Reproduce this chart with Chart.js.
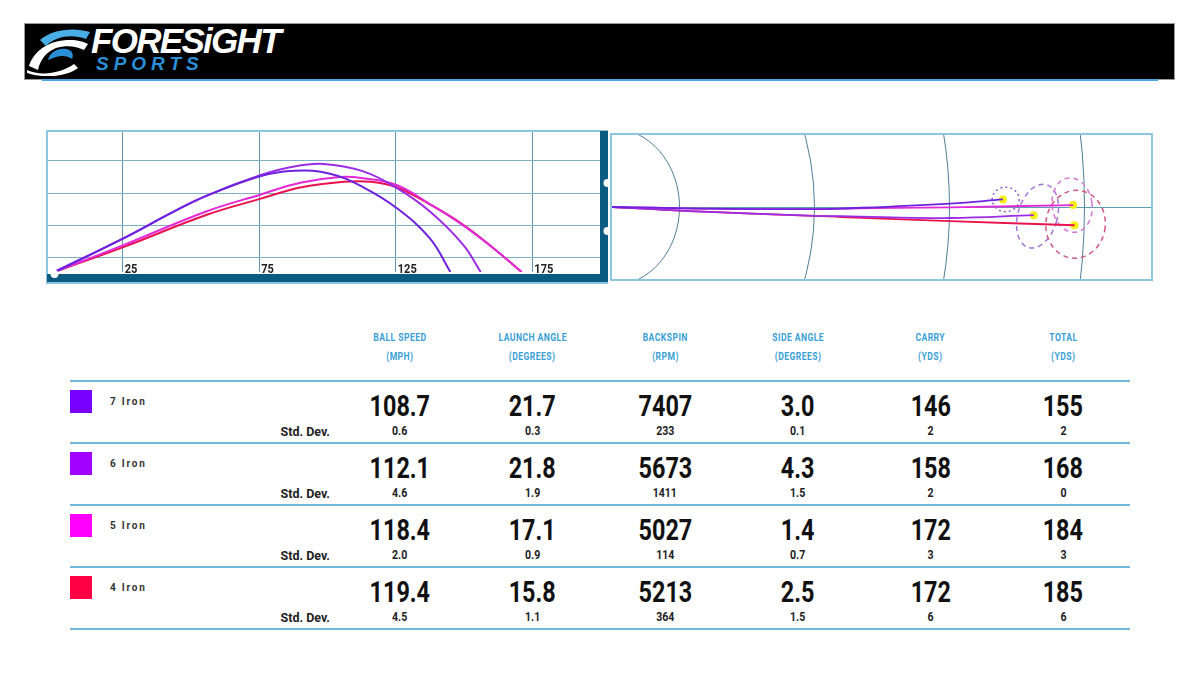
<!DOCTYPE html>
<html>
<head>
<meta charset="utf-8">
<script src="https://cdn.jsdelivr.net/npm/chart.js@4.4.1/dist/chart.umd.min.js"></script>
<style>
    body { margin: 0; width: 1200px; height: 675px; background: #fff; position: relative; overflow: hidden;
           font-family: Roboto, "DejaVu Sans", sans-serif; }
    .abs { position: absolute; }
    #header { left: 24px; top: 23px; width: 1151px; height: 57px; background: #000; border: 1px solid #9a9a9a; box-sizing: border-box; }
    #header-line { left: 42px; top: 79px; width: 1116px; height: 2px; background: #4aa8e0; }
    #brand { left: 91px; top: 21px; color: #fff; font: italic bold 35px "Liberation Sans", sans-serif; letter-spacing: -1.7px; }
    #brand-sub { left: 96px; top: 53px; color: #2a8fd6; font: italic bold 19px "Liberation Sans", sans-serif; letter-spacing: 5px; }
    .cell { text-align: center; width: 120px; white-space: nowrap; }
    .cell span { display: inline-block; transform-origin: 50% 50%; }
    .colhead { color: #3a9fd6; font-weight: bold; font-size: 10px; letter-spacing: 0.5px; }
    .colhead span { transform: scaleX(0.86); }
    .rule { left: 70px; width: 1060px; height: 2px; background: #74b9dc; }
    .swatch { left: 70px; width: 22px; height: 23px; }
    .club { left: 110px; font-size: 10px; font-weight: bold; letter-spacing: 1.8px; color: #333; }
    .big { font-size: 30px; font-weight: bold; color: #111; }
    .big span { transform: scaleX(0.78); }
    .sd { font-size: 12px; font-weight: bold; color: #222; }
    .sd span { transform: scaleX(0.88); }
    .sdlabel { left: 230px; width: 100px; text-align: right; font-size: 12.5px; font-weight: bold; color: #222; }
    canvas { position: absolute; }
</style>
</head>
<body>
<div id="header" class="abs"></div>
<div id="header-line" class="abs"></div>
<svg class="abs" style="left:26px;top:26px" width="66" height="50" viewBox="0 0 66 50">
    <path d="M14,14 C26,3 48,1 64,6 L60,13 C46,8 30,10 20,20 Z" fill="#4aaee6"/>
    <path d="M3,40 C8,24 24,14 44,14 C52,14 58,16 62,18 L58,24 C50,20 40,19 30,22 C20,26 14,34 12,44 Z" fill="#fff"/>
    <path d="M22,34 C24,26 32,22 40,23 C46,24 48,28 46,33 C42,30 36,29 30,31 Z" fill="#2a8fd6"/>
    <path d="M1,44 C14,50 34,48 48,38 L52,42 C38,52 16,52 1,47 Z" fill="#fff"/>
</svg>
<div id="brand" class="abs">FORESiGHT</div>
<div id="brand-sub" class="abs">SPORTS</div>

<canvas id="side" width="562" height="154" style="left:46px;top:130px"></canvas>
<canvas id="top" width="548" height="154" style="left:608px;top:130px"></canvas>

<div id="table"></div>

<script>
// Club names and swatch colours
const clubs = ['7 Iron', '6 Iron', '5 Iron', '4 Iron'];
const clubColors = ['#7700ff', '#a100ff', '#ff00ff', '#ff0044'];
const lineColors = ['#6e22e0', '#9c2de6', '#e22ad8', '#e8124e'];
const ringColors = ['#8a5ad0', '#a274d8', '#d878d4', '#d25585'];

// Side view trajectories: distance (yds) vs height
const side7 = [[0, 0], [25.2, 10.4], [43.5, 18.6], [55.8, 23.6], [75.3, 29.6], [88, 31.3], [100.9, 30.4], [113.1, 26.2], [125.3, 19.8], [137.5, 10.4], [145, 0]];
const side6 = [[0, 0], [25.2, 10.4], [43.5, 18.6], [55.8, 23.6], [75.3, 29.9], [86.3, 32.4], [98.5, 33.4], [113.1, 31.1], [125.3, 26.0], [137.5, 18.7], [149.7, 8.4], [156.1, 0]];
const side5 = [[0, 0], [25.2, 8.3], [55.8, 18.8], [75.3, 23.9], [90, 27.6], [104.6, 29.4], [113.1, 29.0], [125.3, 26.9], [137.5, 21.0], [149.7, 14.4], [162, 6.5], [171.1, 0]];
const side4 = [[0, 0], [25.2, 7.7], [55.8, 17.7], [75.3, 22.6], [90, 26.1], [106, 27.9], [116, 27.9], [125.3, 26.2], [137.5, 20.9], [149.7, 14.6], [162, 6.5], [171.1, 0]];

// Top view paths: distance (yds) vs lateral offset (yds)
const top7 = [[0, 0], [15.4, -0.2], [33.7, -0.5], [75, -0.7], [85, -0.5], [125.3, 1.1], [144.8, 2.4]];
const top6 = [[0, 0], [15.4, -0.7], [33.7, -1.5], [75, -2.8], [85, -2.9], [125.3, -3.5], [156.2, -2.6]];
const top5 = [[0, 0], [15.4, -0.2], [33.7, -0.5], [75, -0.7], [85, -0.5], [125.3, -0.1], [170.8, 0.6]];
const top4 = [[0, 0], [15.4, -0.7], [33.7, -1.5], [75, -2.8], [85, -3.2], [125.3, -4.5], [171.3, -5.8]];

// Dispersion rings round each landing spot: centre, radii (yds), tilt (deg)
const ringCenterX = [145.8, 157.6, 170.4, 171.7];
const ringCenterY = [2.4, -2.9, 0.6, -5.5];
const ringRadiusX = [5.0, 7.3, 7.4, 11];
const ringRadiusY = [3.9, 10.4, 8.7, 10.8];
const ringTilt = [0, 16, -8, 6];

// Grid
const xGrid = [25, 75, 125, 175];
const yGrid = [4.4, 14.4, 24.4, 34.4];
const arcRadii = [25, 75, 125, 175];

// Table values
const colNames = ['BALL SPEED', 'LAUNCH ANGLE', 'BACKSPIN', 'SIDE ANGLE', 'CARRY', 'TOTAL'];
const colUnits = ['(MPH)', '(DEGREES)', '(RPM)', '(DEGREES)', '(YDS)', '(YDS)'];
const colDecimals = [1, 1, 0, 1, 0, 0];
const ballSpeed = [108.7, 112.1, 118.4, 119.4];
const ballSpeedSd = [0.6, 4.6, 2.0, 4.5];
const launchAngle = [21.7, 21.8, 17.1, 15.8];
const launchAngleSd = [0.3, 1.9, 0.9, 1.1];
const backspin = [7407, 5673, 5027, 5213];
const backspinSd = [233, 1411, 114, 364];
const sideAngle = [3.0, 4.3, 1.4, 2.5];
const sideAngleSd = [0.1, 1.5, 0.7, 1.5];
const carry = [146, 158, 172, 172];
const carrySd = [2, 2, 3, 6];
const total = [155, 168, 184, 185];
const totalSd = [2, 0, 3, 6];

const colValues = [ballSpeed, launchAngle, backspin, sideAngle, carry, total];
const colSds = [ballSpeedSd, launchAngleSd, backspinSd, sideAngleSd, carrySd, totalSd];

Chart.defaults.font.family = 'Roboto, sans-serif';

const toXY = pts => pts.map(p => ({ x: p[0], y: p[1] }));
const zeroSize = {
    x: s => { s.height = 0; },
    y: s => { s.width = 0; }
};

function lineSet(pts, color, width) {
    return {
        data: toXY(pts),
        borderColor: color,
        borderWidth: width || 2,
        pointRadius: 0,
        fill: false,
        tension: 0.4
    };
}

// ---------- side view ----------
const sideDecor = {
    id: 'sideDecor',
    afterDraw(chart) {
        const { ctx, chartArea: a, width, height } = chart;
        const xs = chart.scales.x;
        ctx.save();
        // light outer frame
        ctx.strokeStyle = '#8cc6e2';
        ctx.lineWidth = 2;
        ctx.strokeRect(1, 1, width - 1, height - 2);
        // ground bar and right post
        ctx.fillStyle = '#0b5a80';
        ctx.fillRect(1, a.bottom + 2, width - 1, 8);
        ctx.fillRect(a.right, 1, width - a.right, height - 3);
        // tee
        ctx.fillStyle = '#fff';
        ctx.beginPath();
        ctx.arc(xs.getPixelForValue(0), a.bottom + 2, 4, 0, Math.PI * 2);
        ctx.fill();
        [53, 101].forEach(y => {
            ctx.beginPath();
            ctx.arc(width - 0.5, y, 4, 0, Math.PI * 2);
            ctx.fill();
        });
        // distance labels
        ctx.fillStyle = '#222';
        ctx.font = 'bold 13px Roboto, sans-serif';
        ctx.textBaseline = 'alphabetic';
        xGrid.forEach(v => {
            ctx.save();
            ctx.translate(xs.getPixelForValue(v) + 2, a.bottom + 1);
            ctx.scale(0.85, 1);
            ctx.fillText(String(v), 0, 0);
            ctx.restore();
        });
        ctx.restore();
    }
};

new Chart(document.getElementById('side'), {
    type: 'line',
    data: {
        datasets: [lineSet(side7, lineColors[0]), lineSet(side6, lineColors[1]),
                   lineSet(side5, lineColors[2]), lineSet(side4, lineColors[3])]
    },
    options: {
        responsive: false,
        animation: false,
        layout: { padding: { left: 1, top: 1, right: 8, bottom: 12 } },
        plugins: { legend: { display: false }, tooltip: { enabled: false } },
        scales: {
            x: {
                type: 'linear', min: -2.75, max: 199.8,
                afterBuildTicks: s => { s.ticks = xGrid.map(v => ({ value: v })); },
                afterFit: zeroSize.x,
                ticks: { display: false },
                grid: { color: '#5f95ad', lineWidth: 1, drawTicks: false },
                border: { display: false }
            },
            y: {
                type: 'linear', min: 0, max: 43.6,
                afterBuildTicks: s => { s.ticks = yGrid.map(v => ({ value: v })); },
                afterFit: zeroSize.y,
                ticks: { display: false },
                grid: { color: '#7fb0c6', lineWidth: 1, drawTicks: false },
                border: { display: false }
            }
        }
    },
    plugins: [sideDecor]
});

// ---------- top view ----------
const dotIndex = 4;
const topDecor = {
    id: 'topDecor',
    beforeDatasetsDraw(chart) {
        const { ctx, chartArea: a } = chart;
        const xs = chart.scales.x, ys = chart.scales.y;
        const x0 = xs.getPixelForValue(0), y0 = ys.getPixelForValue(0);
        ctx.save();
        ctx.beginPath();
        ctx.rect(a.left, a.top, a.right - a.left, a.bottom - a.top);
        ctx.clip();
        ctx.strokeStyle = '#4f7f98';
        ctx.lineWidth = 1;
        arcRadii.forEach(r => {
            const rx = xs.getPixelForValue(r) - x0;
            const ry = y0 - ys.getPixelForValue(r);
            ctx.beginPath();
            ctx.ellipse(x0, y0, rx, ry, 0, -Math.PI / 2, Math.PI / 2);
            ctx.stroke();
        });
        ctx.restore();
    },
    beforeDatasetDraw(chart, args) {
        if (args.index !== dotIndex) return;
        const { ctx } = chart;
        const xs = chart.scales.x, ys = chart.scales.y;
        ctx.save();
        ctx.lineWidth = 1.5;
        clubs.forEach((c, i) => {
            const cx = xs.getPixelForValue(ringCenterX[i]);
            const cy = ys.getPixelForValue(ringCenterY[i]);
            const rx = xs.getPixelForValue(ringCenterX[i] + ringRadiusX[i]) - cx;
            const ry = cy - ys.getPixelForValue(ringCenterY[i] + ringRadiusY[i]);
            ctx.strokeStyle = ringColors[i];
            ctx.setLineDash(i === 0 ? [2, 3] : [5, 4]);
            ctx.beginPath();
            ctx.ellipse(cx, cy, rx, ry, ringTilt[i] * Math.PI / 180, 0, Math.PI * 2);
            ctx.stroke();
        });
        ctx.restore();
    },
    afterDraw(chart) {
        const { ctx, chartArea: a } = chart;
        ctx.save();
        ctx.strokeStyle = '#8cc6e2';
        ctx.lineWidth = 2;
        ctx.strokeRect(a.left - 1, a.top, a.right - a.left + 1, a.bottom - a.top);
        ctx.restore();
    }
};

const landing = [top7, top6, top5, top4].map(p => p[p.length - 1]);

new Chart(document.getElementById('top'), {
    type: 'line',
    data: {
        datasets: [
            lineSet(top7, lineColors[0], 1.8), lineSet(top6, lineColors[1], 1.8),
            lineSet(top5, lineColors[2], 1.8), lineSet(top4, lineColors[3], 1.8),
            {
                type: 'scatter',
                data: toXY(landing),
                pointRadius: 4,
                pointBackgroundColor: '#f7ee12',
                pointBorderWidth: 0,
                showLine: false
            }
        ]
    },
    options: {
        responsive: false,
        animation: false,
        layout: { padding: { left: 0, top: 1, right: 2, bottom: 2 } },
        plugins: { legend: { display: false }, tooltip: { enabled: false } },
        scales: {
            x: {
                type: 'linear', min: 0, max: 200,
                afterFit: zeroSize.x,
                ticks: { display: false },
                grid: { display: false },
                border: { display: false }
            },
            y: {
                type: 'linear', min: -23.2, max: 23.2,
                afterBuildTicks: s => { s.ticks = [{ value: 0 }]; },
                afterFit: zeroSize.y,
                ticks: { display: false },
                grid: { color: '#5e9fb5', lineWidth: 1, drawTicks: false },
                border: { display: false }
            }
        }
    },
    plugins: [topDecor]
});

// ---------- table ----------
const table = document.getElementById('table');
function addDiv(cls, text, left, top, style) {
    const d = document.createElement('div');
    d.className = 'abs ' + cls;
    if (cls.indexOf('cell') >= 0) {
        const s = document.createElement('span');
        s.textContent = text;
        d.appendChild(s);
    } else {
        d.textContent = text;
    }
    d.style.left = left + 'px';
    d.style.top = top + 'px';
    if (style) Object.assign(d.style, style);
    table.appendChild(d);
    return d;
}

const colCenter = i => 400 + 132.6 * i;
colNames.forEach((name, i) => {
    addDiv('cell colhead', name, colCenter(i) - 60, 332);
    addDiv('cell colhead', colUnits[i], colCenter(i) - 60, 351);
});

const rowTop = 380;
const rowStep = 62;
for (let r = 0; r <= clubs.length; r++) {
    addDiv('rule', '', 70, rowTop + rowStep * r);
}
clubs.forEach((club, r) => {
    const t = rowTop + rowStep * r;
    addDiv('swatch', '', 70, t + 10, { background: clubColors[r] });
    addDiv('club', club, 110, t + 16);
    addDiv('sdlabel', 'Std. Dev.', 230, t + 44);
    colValues.forEach((vals, i) => {
        addDiv('cell big', vals[r].toFixed(colDecimals[i]), colCenter(i) - 60, t + 8);
        addDiv('cell sd', colSds[i][r].toFixed(colDecimals[i]), colCenter(i) - 60, t + 44);
    });
});
</script>
</body>
</html>
